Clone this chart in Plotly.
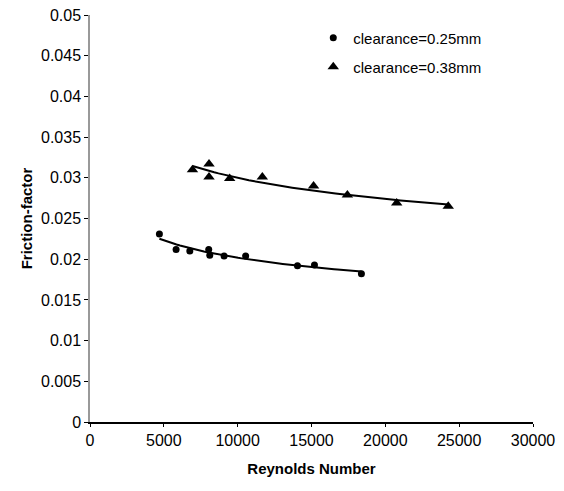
import numpy as np
import plotly.graph_objects as go

# Data
re_025 = [4700, 5830, 6760, 8040, 8110, 9080, 10540, 14050, 15200, 18380]
f_025 = [0.0231, 0.0212, 0.0210, 0.0212, 0.0205, 0.0204, 0.0204, 0.0192, 0.0193, 0.0182]

re_038 = [6940, 8060, 8060, 9460, 11670, 15140, 17430, 20770, 24260]
f_038 = [0.0310, 0.0317, 0.0301, 0.0299, 0.0301, 0.0290, 0.0279, 0.0269, 0.0265]

x_ticks = [0, 5000, 10000, 15000, 20000, 25000, 30000]
y_ticks = [0, 0.005, 0.01, 0.015, 0.02, 0.025, 0.03, 0.035, 0.04, 0.045, 0.05]

FONT = "Liberation Sans, Arial, sans-serif"


def power_trend(xs, ys):
    b, a = np.polyfit(np.log(xs), np.log(ys), 1)
    xx = np.linspace(min(xs), max(xs), 60)
    return xx, np.exp(a) * xx ** b


fig = go.Figure()

for xs, ys in [(re_025, f_025), (re_038, f_038)]:
    tx, ty = power_trend(xs, ys)
    fig.add_trace(go.Scatter(x=tx, y=ty, mode="lines",
                             line=dict(color="black", width=2),
                             showlegend=False, hoverinfo="skip"))

fig.add_trace(go.Scatter(x=re_025, y=f_025, mode="markers", name="clearance=0.25mm",
                         marker=dict(symbol="circle", size=7, color="black"),
                         legend="legend"))
fig.add_trace(go.Scatter(x=re_038, y=f_038, mode="markers", name="clearance=0.38mm",
                         marker=dict(symbol="triangle-up", size=10, color="black"),
                         legend="legend2"))

legend_common = dict(font=dict(family=FONT, size=15, color="black"),
                     bgcolor="rgba(0,0,0,0)", xanchor="left", yanchor="middle")

# plot area target: x 90..533 px, y 15..422 px (screen has an 8px page offset)
fig.update_layout(
    width=564, height=491,
    margin=dict(l=82, r=39, t=7, b=77),
    paper_bgcolor="white", plot_bgcolor="white",
    font=dict(family=FONT, size=16, color="black"),
    legend=dict(x=0.504, y=(422 - 38) / 407, **legend_common),
    legend2=dict(x=0.504, y=(422 - 67) / 407, **legend_common),
    xaxis=dict(range=[0, 30000], tickvals=x_ticks, tickformat="d",
               automargin=False, ticklabeloverflow="allow",
               showgrid=False, zeroline=False, showline=True,
               linecolor="black", linewidth=1.5,
               ticks="outside", ticklen=3, tickcolor="black",
               title=dict(text="<b>Reynolds Number</b>", font=dict(size=15), standoff=16)),
    yaxis=dict(range=[0, 0.05], tickvals=y_ticks,
               automargin=False, ticklabeloverflow="allow",
               showgrid=False, zeroline=False, showline=True,
               linecolor="#999999", linewidth=1.5,
               ticks="outside", ticklen=4, tickcolor="black",
               title=dict(text="<b>Friction-factor</b>", font=dict(size=15), standoff=5)),
)

fig.write_html("out.html")
